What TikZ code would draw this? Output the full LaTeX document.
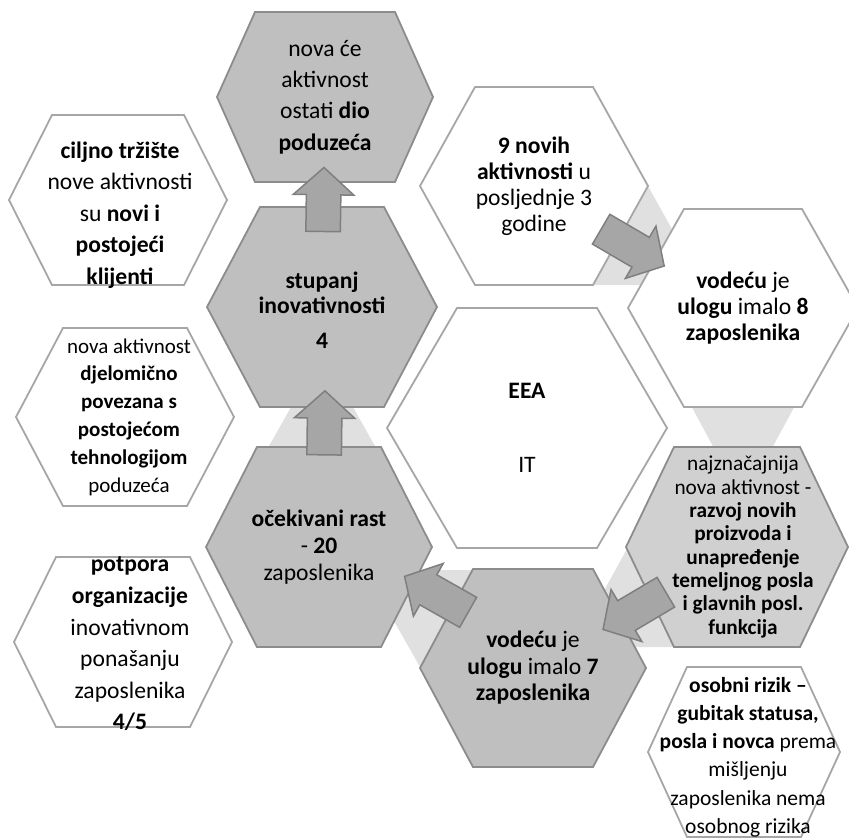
\documentclass[tikz,border=0pt]{standalone}
\usepackage{fontspec}
\setmainfont{Carlito}
\usetikzlibrary{calc, shapes.arrows}

\definecolor{hexdark}{HTML}{BFBFBF}
\definecolor{hexlight}{HTML}{D0D0D0}
\definecolor{hexline}{HTML}{8C8C8C}
\definecolor{whiteline}{HTML}{A6A6A6}
\definecolor{arrowfill}{HTML}{A6A6A6}
\definecolor{arrowline}{HTML}{7F7F7F}
\definecolor{gapfill}{HTML}{E0E0E0}

% hexagon around a centre: [style]{centre}{half width}{half height}{half top edge}
\newcommand{\hexat}[5][]{%
  \draw[#1] ($(#2)+(-#3,0)$) -- ($(#2)+(-#5,-#4)$) -- ($(#2)+(#5,-#4)$)
    -- ($(#2)+(#3,0)$) -- ($(#2)+(#5,#4)$) -- ($(#2)+(-#5,#4)$) -- cycle;}

\begin{document}
\begin{tikzpicture}[x=1pt, y=-1pt,
    darkhex/.style={fill=hexdark, draw=hexline, line width=1.8pt},
    lighthex/.style={fill=hexlight, draw=hexline, line width=1.8pt},
    whitehex/.style={fill=white, draw=whiteline, line width=1.8pt},
    gap/.style={fill=gapfill},
    blockarrow/.style={single arrow, draw=arrowline, fill=arrowfill, line width=1.5pt,
                       inner sep=0pt, inner ysep=16.5pt, single arrow head extend=13pt,
                       single arrow tip angle=96, minimum width=0pt},
    txt/.style={align=center, inner sep=0pt, font=\fontsize{23.6}{26}\selectfont}
]
  \useasboundingbox (0,0) rectangle (849,838);

  % hexagon centres
  \coordinate (h-ostati)  at (325,97);
  \coordinate (h-stupanj) at (322,307);
  \coordinate (h-rast)    at (319,547);
  \coordinate (h-novih)   at (534,186);
  \coordinate (h-vodeca8) at (743,308);
  \coordinate (h-eea)     at (527,428);
  \coordinate (h-najzn)   at (737,547);
  \coordinate (h-vodeca7) at (533,668);
  \coordinate (h-trziste) at (118,200);
  \coordinate (h-tehno)   at (125,417);
  \coordinate (h-potpora) at (123,642);
  \coordinate (h-rizik)   at (744,752);

  % light grey gaps behind the hexagons
  \fill[gap] (322,352) -- (380,455) -- (264,455) -- cycle;
  \fill[gap] (688,400) -- (798,400) -- (743,502) -- cycle;
  \fill[gap] (648,186) -- (703,285) -- (593,285) -- cycle;
  \fill[gap] (628,547) -- (683,647) -- (573,647) -- cycle;
  \fill[gap] (420,667) -- (475,570) -- (365,570) -- cycle;

  % hexagons
  \hexat[darkhex]{h-ostati}{108}{85}{70}
  \hexat[darkhex]{h-stupanj}{115}{100}{62}
  \hexat[darkhex]{h-rast}{113}{100}{62}
  \hexat[whitehex]{h-novih}{114}{99}{59}
  \hexat[whitehex]{h-vodeca8}{115}{99}{59}
  \hexat[whitehex]{h-eea}{140}{120}{70}
  \hexat[lighthex]{h-najzn}{111}{100}{63}
  \hexat[darkhex]{h-vodeca7}{113}{99}{60}
  \hexat[whitehex]{h-trziste}{109}{85}{66}
  \hexat[whitehex]{h-tehno}{109}{89}{62}
  \hexat[whitehex]{h-potpora}{109}{85}{67}
  \hexat[whitehex]{h-rizik}{96}{85}{57}

  % texts
  \node[txt, font=\fontsize{23.6}{31.3}\selectfont] (ostati) at (h-ostati)
    {nova će\\aktivnost\\ostati \textbf{dio}\\\textbf{poduzeća}};
  \node[txt, font=\fontsize{23.6}{25}\selectfont] (stupanj) at ($(h-stupanj)+(0,3)$)
    {\textbf{stupanj}\\\textbf{inovativnosti}\\[10pt]\textbf{4}};
  \node[txt, font=\fontsize{23.6}{27}\selectfont] (rast) at (h-rast)
    {\textbf{očekivani rast}\\- \textbf{20}\\zaposlenika};
  \node[txt] (novih) at (h-novih)
    {\textbf{9 novih}\\\textbf{aktivnosti} u\\posljednje 3\\godine};
  \node[txt] (vodeca8) at (h-vodeca8)
    {\textbf{vodeću} je\\\textbf{ulogu} imalo \textbf{8}\\\textbf{zaposlenika}};
  \node[txt] (eea) at (h-eea) {\textbf{EEA}\\[48pt]IT};
  \node[txt, font=\fontsize{21.3}{23.3}\selectfont] (najzn) at ($(h-najzn)+(6,0)$)
    {najznačajnija\\nova aktivnost -\\\textbf{razvoj novih}\\\textbf{proizvoda i}\\
     \textbf{unapređenje}\\\textbf{temeljnog posla}\\\textbf{i glavnih posl.}\\\textbf{funkcija}};
  \node[txt, font=\fontsize{23.6}{26.5}\selectfont] (vodeca7) at (h-vodeca7)
    {\textbf{vodeću} je\\\textbf{ulogu} imalo \textbf{7}\\\textbf{zaposlenika}};
  \node[txt, font=\fontsize{23.6}{31.5}\selectfont] (trziste) at ($(h-trziste)+(2,15)$)
    {\textbf{ciljno tržište}\\nove aktivnosti\\su \textbf{novi i}\\\textbf{postojeći}\\\textbf{klijenti}};
  \node[txt, font=\fontsize{21}{27.8}\selectfont] (tehno) at ($(h-tehno)+(4,0)$)
    {nova aktivnost\\\textbf{djelomično}\\\textbf{povezana s}\\\textbf{postojećom}\\\textbf{tehnologijom}\\poduzeća};
  \node[txt, font=\fontsize{23.6}{31.6}\selectfont] (potpora) at ($(h-potpora)+(7,2)$)
    {\textbf{potpora}\\\textbf{organizacije}\\inovativnom\\ponašanju\\zaposlenika\\\textbf{4/5}};
  \node[txt, font=\fontsize{21.5}{28.2}\selectfont] (rizik) at ($(h-rizik)+(4,5)$)
    {\textbf{osobni rizik –}\\\textbf{gubitak statusa,}\\\textbf{posla i novca} prema\\mišljenju\\zaposlenika nema\\osobnog rizika};

  % block arrows between hexagons
  \foreach \src/\dst/\t/\arrlen/\dx/\dy in {h-stupanj/h-ostati/0.475/64/0/0,
      h-rast/h-stupanj/0.485/64/4/0, h-novih/h-vodeca8/0.44/73/0/-4,
      h-najzn/h-vodeca7/0.47/73/0/-3, h-vodeca7/h-rast/0.42/73/0/19}
    \path let \p1 = ($(\dst)-(\src)$), \n1 = {atan2(\y1,\x1)} in
      node[blockarrow, minimum height=\arrlen pt, xshift=\dx pt, yshift=\dy pt, rotate=\n1]
        at ($(\src)!\t!(\dst)$) {};
\end{tikzpicture}
\end{document}
